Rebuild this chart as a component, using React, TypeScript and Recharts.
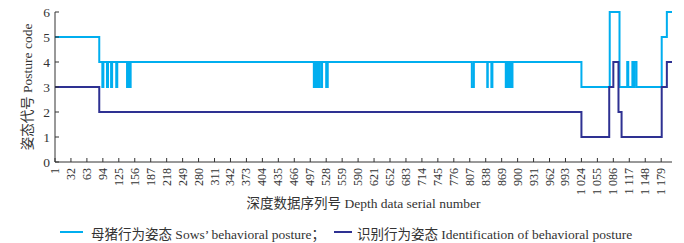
import { LineChart, Line, XAxis, YAxis } from 'recharts'

const FONT = "'Liberation Serif', 'Times New Roman', 'Noto Sans CJK SC', serif"
const SOW_COLOR = '#00AEEF'
const IDENT_COLOR = '#2E3192'

// change points: [depth data serial number, posture code]
const sowPosture: [number, number][] = [
  [1, 5], [87, 4],
  [93, 3], [95, 4], [102, 3], [104, 4], [110, 3], [112, 4], [120, 3], [122, 4],
  [141, 3], [143, 4], [144, 3], [146, 4], [147, 3], [148, 4],
  [504, 3], [506, 4], [507, 3], [509, 4], [510, 3], [512, 4], [513, 3], [515, 4],
  [519, 3], [520, 4], [528, 3], [531, 4],
  [811, 3], [815, 4], [841, 3], [842, 4], [849, 3], [851, 4],
  [877, 3], [879, 4], [880, 3], [882, 4], [883, 3], [885, 4], [886, 3], [888, 4], [889, 3], [890, 4],
  [1024, 3], [1079, 6], [1098, 3],
  [1113, 4], [1115, 3], [1123, 4], [1126, 3], [1127, 4], [1131, 3],
  [1180, 5], [1190, 6], [1200, 6],
]

const identifiedPosture: [number, number][] = [
  [1, 3], [87, 2], [1024, 1], [1078, 3], [1086, 4], [1096, 2], [1102, 1],
  [1180, 3], [1190, 4], [1200, 4],
]

const serialTicks = [
  1, 32, 63, 94, 125, 156, 187, 218, 249, 280, 311, 342, 373, 404, 435, 466, 497, 528, 559, 590,
  621, 652, 683, 714, 745, 776, 807, 838, 869, 900, 931, 962, 993, 1024, 1055, 1086, 1117, 1148, 1179,
]
const postureTicks = [0, 1, 2, 3, 4, 5, 6]

function valueAt(runs: [number, number][], s: number) {
  let v = runs[0][1]
  for (const [x, y] of runs) if (x <= s) v = y
  return v
}

const serials = Array.from(new Set([...sowPosture, ...identifiedPosture].map(p => p[0]))).sort((a, b) => a - b)
const rows = serials.map(s => ({
  serial: s,
  sow: valueAt(sowPosture, s),
  ident: valueAt(identifiedPosture, s),
}))

function formatSerial(v: number) {
  if (v < 1000) return String(v)
  return `${Math.floor(v / 1000)} ${String(v % 1000).padStart(3, '0')}`
}

function SerialTick({ x, y, payload }: { x?: number; y?: number; payload?: { value: number } }) {
  return (
    <text
      x={x}
      y={y}
      transform={`rotate(-90 ${x} ${y})`}
      textAnchor="end"
      dominantBaseline="central"
      fontSize={12}
      fill="#333"
      fontFamily={FONT}
    >
      {formatSerial(payload?.value ?? 0)}
    </text>
  )
}

export default function App() {
  return (
    <div style={{ position: 'relative', width: 684, height: 243, background: '#fff' }}>
      <style>{'body { margin: 0; }'}</style>
      <LineChart width={684} height={243} data={rows} margin={{ top: 12, right: 12, left: 0, bottom: 31 }}>
        <XAxis
          dataKey="serial"
          type="number"
          domain={[1, 1200]}
          ticks={serialTicks}
          interval={0}
          height={50}
          stroke="#333"
          tickSize={-4}
          tickMargin={10}
          tick={<SerialTick />}
          label={{ value: '深度数据序列号 Depth data serial number', position: 'insideBottom', offset: 4, fontSize: 13.5, fill: '#333', fontFamily: FONT }}
        />
        <YAxis
          type="number"
          domain={[0, 6]}
          ticks={postureTicks}
          width={55}
          stroke="#333"
          tickSize={-4}
          tickMargin={9}
          tick={{ fontSize: 13.5, fill: '#333', fontFamily: FONT }}
          label={{ value: '姿态代号 Posture code', angle: -90, position: 'center', fontSize: 13.5, fill: '#333', fontFamily: FONT }}
        />
        <Line
          type="stepAfter"
          dataKey="sow"
          stroke={SOW_COLOR}
          strokeWidth={2}
          dot={false}
          isAnimationActive={false}
        />
        <Line
          type="stepAfter"
          dataKey="ident"
          stroke={IDENT_COLOR}
          strokeWidth={2}
          dot={false}
          isAnimationActive={false}
        />
      </LineChart>
      <div style={{ position: 'absolute', top: 222, left: 0, width: 684, height: 20, fontFamily: FONT, fontSize: 13.5, color: '#333' }}>
        <span style={{ position: 'absolute', left: 60, top: 9, width: 23, height: 2, background: SOW_COLOR }} />
        <span style={{ position: 'absolute', left: 91, top: 1, whiteSpace: 'nowrap' }}>母猪行为姿态 Sows’ behavioral posture；</span>
        <span style={{ position: 'absolute', left: 334, top: 9, width: 18, height: 2, background: IDENT_COLOR }} />
        <span style={{ position: 'absolute', left: 357, top: 1, whiteSpace: 'nowrap' }}>识别行为姿态 Identification of behavioral posture</span>
      </div>
    </div>
  )
}
